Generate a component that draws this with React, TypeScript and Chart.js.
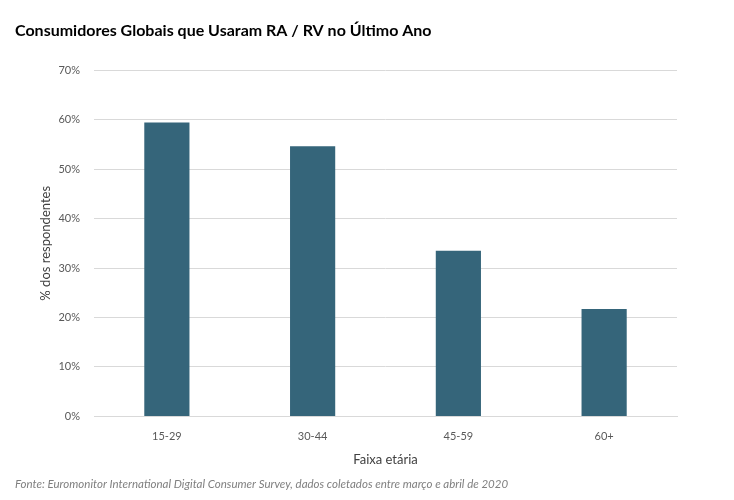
import React, { useEffect, useRef } from 'react';
import { Chart, registerables } from 'chart.js';

Chart.register(...registerables);

// dados
const faixas = ['15-29', '30-44', '45-59', '60+'];
const percentuais = [59.4, 54.6, 33.5, 21.7];
const yTicks = [0, 10, 20, 30, 40, 50, 60, 70];

const FONT = 'Lato, "Open Sans", sans-serif';

const App: React.FC = () => {
  const canvasRef = useRef<HTMLCanvasElement | null>(null);
  const chartRef = useRef<Chart | null>(null);

  useEffect(() => {
    if (!canvasRef.current) return;
    const ctx = canvasRef.current.getContext('2d');
    if (!ctx) return;
    if (chartRef.current) chartRef.current.destroy();

    chartRef.current = new Chart(ctx, {
      type: 'bar',
      data: {
        labels: faixas,
        datasets: [
          {
            label: '% dos respondentes',
            data: percentuais,
            backgroundColor: '#35657a',
            barPercentage: 0.31,
            categoryPercentage: 1,
          },
        ],
      },
      options: {
        animation: false,
        responsive: true,
        maintainAspectRatio: false,
        layout: { padding: { left: 15, right: 57, top: 21, bottom: 9 } },
        plugins: {
          legend: { display: false },
          tooltip: { enabled: false },
          title: {
            display: true,
            text: 'Consumidores Globais que Usaram RA / RV no Último Ano',
            align: 'start',
            color: '#000',
            font: { family: FONT, size: 16, weight: 'bold' },
            padding: { top: 0, bottom: 30 },
          },
          subtitle: {
            display: true,
            position: 'bottom',
            align: 'start',
            text: 'Fonte: Euromonitor International Digital Consumer Survey, dados coletados entre março e abril de 2020',
            color: '#7f7f7f',
            font: { family: FONT, size: 11.5, style: 'italic' },
            padding: { top: 6, bottom: 0 },
          },
        },
        scales: {
          x: {
            grid: { display: false },
            border: { color: '#d9d9d9' },
            ticks: { color: '#595959', font: { family: FONT, size: 11 }, padding: 5 },
            title: {
              display: true,
              text: 'Faixa etária',
              color: '#404040',
              font: { family: FONT, size: 13 },
              padding: { top: 4, bottom: 4 },
            },
          },
          y: {
            min: 0,
            max: 70,
            afterBuildTicks: (scale: any) => {
              scale.ticks = yTicks.map((v) => ({ value: v }));
            },
            afterFit: (scale: any) => {
              scale.width = 79;
            },
            grid: { color: '#d9d9d9', drawTicks: false },
            border: { display: false },
            ticks: {
              color: '#595959',
              font: { family: FONT, size: 11 },
              padding: 14,
              callback: (v: any) => v + '%',
            },
            title: {
              display: true,
              text: '% dos respondentes',
              color: '#404040',
              font: { family: FONT, size: 13 },
              padding: { bottom: 0, top: 23 },
            },
          },
        },
      },
    });

    return () => {
      if (chartRef.current) {
        chartRef.current.destroy();
        chartRef.current = null;
      }
    };
  }, []);

  return (
    <div style={{ position: 'fixed', top: 0, left: 0, width: 734, height: 500, background: '#fff' }}>
      <canvas ref={canvasRef}></canvas>
    </div>
  );
};

export default App;
